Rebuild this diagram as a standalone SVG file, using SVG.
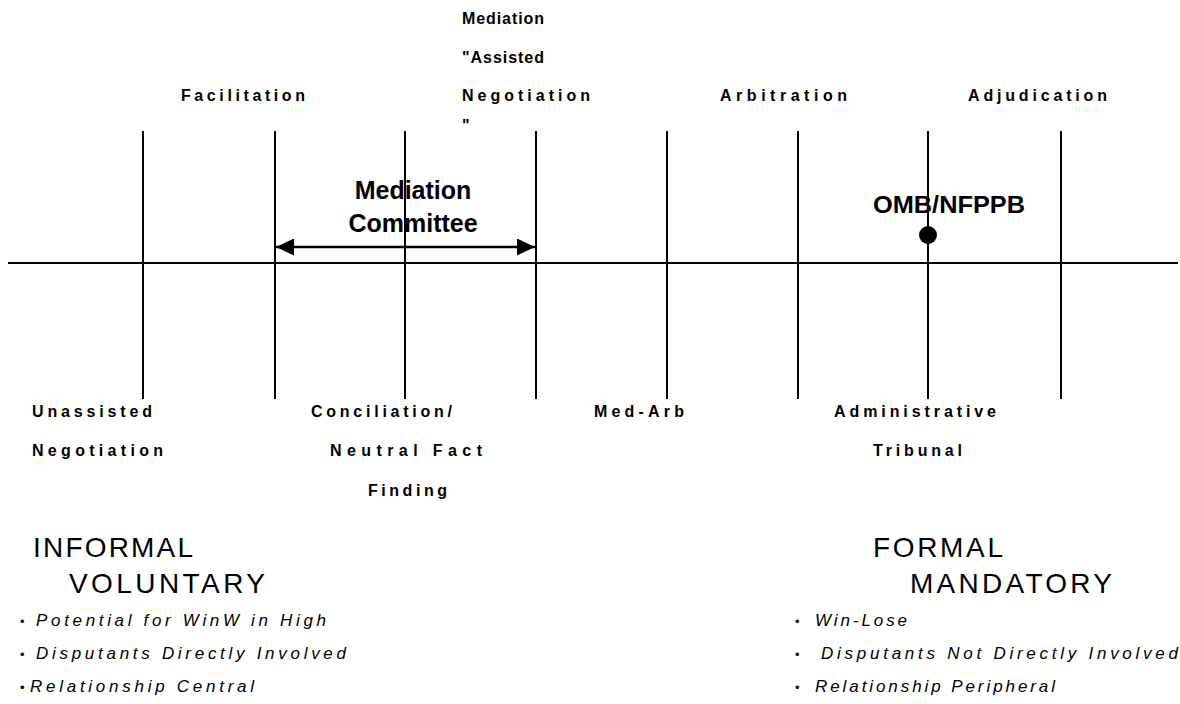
<svg xmlns="http://www.w3.org/2000/svg" width="1180" height="704" viewBox="0 0 1180 704">
  <style>
    .axis { stroke: #000; stroke-width: 2; fill: none; }
    .lbl { font-family: "Liberation Sans", Arial, sans-serif; font-weight: bold; font-size: 16px; fill: #000; }
    .big { font-family: "Liberation Sans", Arial, sans-serif; font-weight: bold; font-size: 25px; fill: #000; }
    .head { font-family: "Liberation Sans", Arial, sans-serif; font-size: 28px; fill: #000; }
    .item { font-family: "Liberation Sans", Arial, sans-serif; font-style: italic; font-size: 17px; fill: #000; }
    .dot { font-family: "Liberation Sans", Arial, sans-serif; font-size: 13px; fill: #000; }
  </style>
  <defs>
    <marker id="tri" viewBox="0 0 10 10" refX="10" refY="5" markerWidth="18" markerHeight="17" markerUnits="userSpaceOnUse" orient="auto-start-reverse" preserveAspectRatio="none">
      <path d="M0,0 L10,5 L0,10 Z" fill="#000"/>
    </marker>
  </defs>
  <rect width="1180" height="704" fill="#fff"/>

  <!-- spectrum axis and tick dividers -->
  <g id="connectors">
    <line class="axis" x1="8" y1="263" x2="1178" y2="263"/>
    <line class="axis" x1="143" y1="131" x2="143" y2="399"/>
    <line class="axis" x1="275" y1="131" x2="275" y2="399"/>
    <line class="axis" x1="405" y1="131" x2="405" y2="399"/>
    <line class="axis" x1="536" y1="131" x2="536" y2="399"/>
    <line class="axis" x1="667" y1="131" x2="667" y2="399"/>
    <line class="axis" x1="798" y1="131" x2="798" y2="399"/>
    <line class="axis" x1="928" y1="131" x2="928" y2="399"/>
    <line class="axis" x1="1061" y1="131" x2="1061" y2="399"/>
    <!-- span of the mediation committee -->
    <line class="axis" x1="276" y1="247" x2="535" y2="247" marker-start="url(#tri)" marker-end="url(#tri)" style="stroke-width:2.5"/>
  </g>

  <!-- upper process labels -->
  <g id="facilitation">
    <text class="lbl" x="181" y="101" textLength="124" lengthAdjust="spacing">Facilitation</text>
  </g>
  <g id="mediation">
    <text class="lbl" x="462" y="24" textLength="82" lengthAdjust="spacing">Mediation</text>
    <text class="lbl" x="462" y="63" textLength="82" lengthAdjust="spacing">"Assisted</text>
    <text class="lbl" x="462" y="101" textLength="128" lengthAdjust="spacing">Negotiation</text>
    <text class="lbl" x="462" y="131">"</text>
  </g>
  <g id="arbitration">
    <text class="lbl" x="720" y="101" textLength="127" lengthAdjust="spacing">Arbitration</text>
  </g>
  <g id="adjudication">
    <text class="lbl" x="968" y="101" textLength="139" lengthAdjust="spacing">Adjudication</text>
  </g>

  <!-- mid labels -->
  <g id="mediation-committee">
    <text class="big" x="413" y="199" text-anchor="middle">Mediation</text>
    <text class="big" x="413" y="232" text-anchor="middle">Committee</text>
  </g>
  <g id="omb-nfppb">
    <text class="big" x="873" y="213" textLength="152" lengthAdjust="spacingAndGlyphs" style="font-size:24px">OMB/NFPPB</text>
    <circle cx="928" cy="235" r="9" fill="#000"/>
  </g>

  <!-- lower process labels -->
  <g id="unassisted-negotiation">
    <text class="lbl" x="32" y="417" textLength="120" lengthAdjust="spacing">Unassisted</text>
    <text class="lbl" x="32" y="456" textLength="131" lengthAdjust="spacing">Negotiation</text>
  </g>
  <g id="conciliation">
    <text class="lbl" x="311" y="417" textLength="141" lengthAdjust="spacing">Conciliation/</text>
    <text class="lbl" x="330" y="456" textLength="152" lengthAdjust="spacing">Neutral  Fact</text>
    <text class="lbl" x="368" y="496" textLength="79" lengthAdjust="spacing">Finding</text>
  </g>
  <g id="med-arb">
    <text class="lbl" x="594" y="417" textLength="90" lengthAdjust="spacing">Med-Arb</text>
  </g>
  <g id="administrative-tribunal">
    <text class="lbl" x="834" y="417" textLength="162" lengthAdjust="spacing">Administrative</text>
    <text class="lbl" x="873" y="456" textLength="89" lengthAdjust="spacing">Tribunal</text>
  </g>

  <!-- informal end of the spectrum -->
  <g id="informal">
    <text class="head" x="33" y="557" textLength="160" lengthAdjust="spacing">INFORMAL</text>
    <text class="head" x="69" y="593" textLength="196" lengthAdjust="spacing">VOLUNTARY</text>
    <text class="dot" x="20" y="626">•</text>
    <text class="item" x="36" y="626" textLength="290" lengthAdjust="spacing">Potential for WinW in High</text>
    <text class="dot" x="20" y="659">•</text>
    <text class="item" x="36" y="659" textLength="310" lengthAdjust="spacing">Disputants Directly Involved</text>
    <text class="dot" x="20" y="692">•</text>
    <text class="item" x="30" y="692" textLength="224" lengthAdjust="spacing">Relationship Central</text>
  </g>

  <!-- formal end of the spectrum -->
  <g id="formal">
    <text class="head" x="873" y="557" textLength="130" lengthAdjust="spacing">FORMAL</text>
    <text class="head" x="910" y="593" textLength="202" lengthAdjust="spacing">MANDATORY</text>
    <text class="dot" x="795" y="626">•</text>
    <text class="item" x="815" y="626" textLength="92" lengthAdjust="spacing">Win-Lose</text>
    <text class="dot" x="795" y="659">•</text>
    <text class="item" x="821" y="659" textLength="357" lengthAdjust="spacing">Disputants Not Directly Involved</text>
    <text class="dot" x="795" y="692">•</text>
    <text class="item" x="815" y="692" textLength="240" lengthAdjust="spacing">Relationship Peripheral</text>
  </g>
</svg>
